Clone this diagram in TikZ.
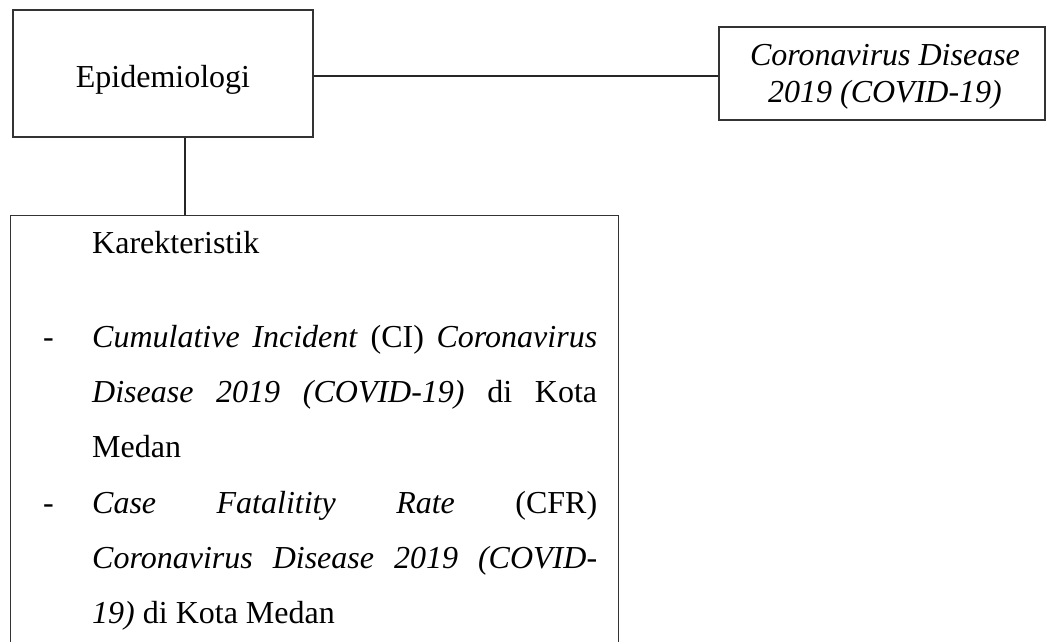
\documentclass[tikz,border=0pt]{standalone}
\usepackage{fontspec}
\setmainfont{Liberation Serif}
\begin{document}
\begin{tikzpicture}[x=1pt,y=-1pt,
  frame/.style={draw=black!80,line width=1.3pt,rectangle,inner sep=0pt},
  txt/.style={anchor=base,inner sep=0pt,font=\fontsize{32}{37}\selectfont},
  txtw/.style={anchor=base west,inner sep=0pt,font=\fontsize{32}{37}\selectfont},
  link/.style={draw=black!85,line width=1.3pt}]
\useasboundingbox (0,0) rectangle (1046,641);
\clip (0,0) rectangle (1046,641);
% boxes
\node[frame,minimum width=300pt,minimum height=127pt] (epi) at (163,73.5) {};
\node[frame,minimum width=326pt,minimum height=93pt] (covid) at (882,73.5) {};
\node[frame,minimum width=608pt,minimum height=460pt,anchor=north west] (kar) at (10,215) {};
% texts
\node[txt] (epit) at (163,87) {Epidemiologi};
\node[txt] (cov1) at (885,65) {\itshape Coronavirus Disease};
\node[txt] (cov2) at (885,102) {\itshape 2019 (COVID-19)};
\node[txtw] (kart) at (92,253) {Karekteristik};
\node[txtw] (d1) at (43,347) {-};
\node[txtw] (d2) at (43,513) {-};
\node[txtw] (l1) at (92,347) {\makebox[505pt][s]{\textit{Cumulative Incident} (CI) \textit{Coronavirus}}};
\node[txtw] (l2) at (92,402) {\makebox[505pt][s]{\textit{Disease 2019 (COVID-19)} di Kota}};
\node[txtw] (l3) at (92,457) {Medan};
\node[txtw] (l4) at (92,513) {\makebox[505pt][s]{\textit{Case Fatalitity Rate} (CFR)}};
\node[txtw] (l5) at (92,568) {\makebox[505pt][s]{\textit{Coronavirus Disease 2019 (COVID-}}};
\node[txtw] (l6) at (92,623) {\textit{19)} di Kota Medan};
% connectors
\draw[link] ([yshift=-2.5pt]epi.east) -- ([yshift=-2.5pt]covid.west);
\coordinate (dn) at ([xshift=22pt]epi.south);
\draw[link] (dn) -- (dn |- kar.north);
\end{tikzpicture}
\end{document}
